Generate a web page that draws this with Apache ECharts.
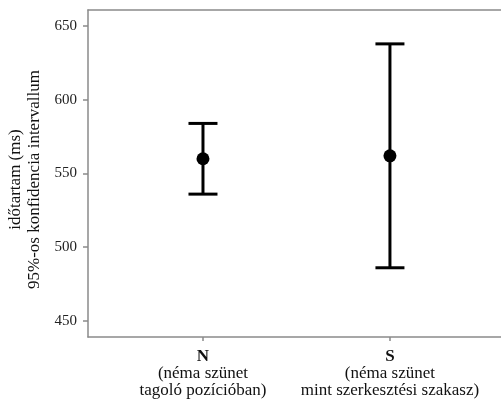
<!DOCTYPE html>
<html>
<head>
<meta charset="utf-8">
<script src="https://cdn.jsdelivr.net/npm/echarts@6/dist/echarts.min.js"></script>
<style>html,body{margin:0;padding:0;background:#fff}#c{width:501px;height:404px}</style>
</head>
<body>
<div id="c"></div>
<script>
const categories = ["N", "S"];
const subLine1 = ["(néma szünet", "(néma szünet"];
const subLine2 = ["tagoló pozícióban)", "mint szerkesztési szakasz)"];
const means = [560, 562];
const lower = [536, 486];
const upper = [584, 638];
const yTicks = [450, 500, 550, 600, 650];
const xPos = [1, 2];

const errData = categories.map((c, i) => [xPos[i], lower[i], upper[i]]);
const meanData = categories.map((c, i) => [xPos[i], means[i]]);

const font = "Liberation Serif";
const axisGray = "#8a8a8a";

const chart = echarts.init(document.getElementById('c'), null, {renderer: 'canvas'});
chart.setOption({
  animation: false,
  backgroundColor: '#fff',
  grid: {left: 88, right: 0, top: 10, bottom: 67, containLabel: false, outerBoundsMode: 'none'},
  xAxis: [{
    type: 'value', min: 0.385, max: 2.594, position: 'bottom',
    axisLine: {show: true, lineStyle: {color: axisGray, width: 1.5}},
    axisTick: {show: true, customValues: xPos, length: 4, lineStyle: {color: axisGray, width: 1.5}},
    splitLine: {show: false},
    axisLabel: {
      customValues: xPos, margin: 11,
      formatter: function (v) {
        const i = xPos.indexOf(Math.round(v));
        if (i < 0) return '';
        return '{b|' + categories[i] + '}\n{n|' + subLine1[i] + '}\n{n|' + subLine2[i] + '}';
      },
      rich: {
        b: {fontFamily: font, fontSize: 17, fontWeight: 'bold', color: '#111', lineHeight: 17},
        n: {fontFamily: font, fontSize: 17, color: '#111', lineHeight: 17}
      }
    }
  }, {
    type: 'value', min: 0.385, max: 2.594, position: 'top',
    axisLine: {show: true, lineStyle: {color: axisGray, width: 1.5}},
    axisTick: {show: false}, axisLabel: {show: false}, splitLine: {show: false}
  }],
  yAxis: {
    type: 'value', min: 439, max: 661,
    name: 'időtartam (ms)\n95%-os konfidencia intervallum',
    nameLocation: 'middle', nameRotate: 90, nameGap: 35,
    nameTextStyle: {fontFamily: font, fontSize: 17, color: '#111', lineHeight: 19, align: 'center', padding: [0, 12, 0, 0]},
    axisLine: {show: true, lineStyle: {color: axisGray, width: 1.5}},
    axisTick: {show: true, customValues: yTicks, length: 5, lineStyle: {color: axisGray, width: 1.5}},
    splitLine: {show: false},
    axisLabel: {customValues: yTicks, margin: 11, fontFamily: font, fontSize: 15, color: '#222'}
  },
  series: [{
    type: 'custom',
    data: errData,
    encode: {x: 0, y: [1, 2]},
    renderItem: function (params, api) {
      const x = api.value(0);
      const pLo = api.coord([x, api.value(1)]);
      const pHi = api.coord([x, api.value(2)]);
      const hw = 14.5;
      const st = {stroke: '#000', lineWidth: 3};
      return {
        type: 'group',
        children: [
          {type: 'line', shape: {x1: pLo[0], y1: pLo[1], x2: pHi[0], y2: pHi[1]}, style: st},
          {type: 'line', shape: {x1: pHi[0] - hw, y1: pHi[1], x2: pHi[0] + hw, y2: pHi[1]}, style: st},
          {type: 'line', shape: {x1: pLo[0] - hw, y1: pLo[1], x2: pLo[0] + hw, y2: pLo[1]}, style: st}
        ]
      };
    }
  }, {
    type: 'scatter',
    data: meanData,
    symbol: 'circle', symbolSize: 13,
    itemStyle: {color: '#000', opacity: 1}
  }]
});
</script>
</body>
</html>
